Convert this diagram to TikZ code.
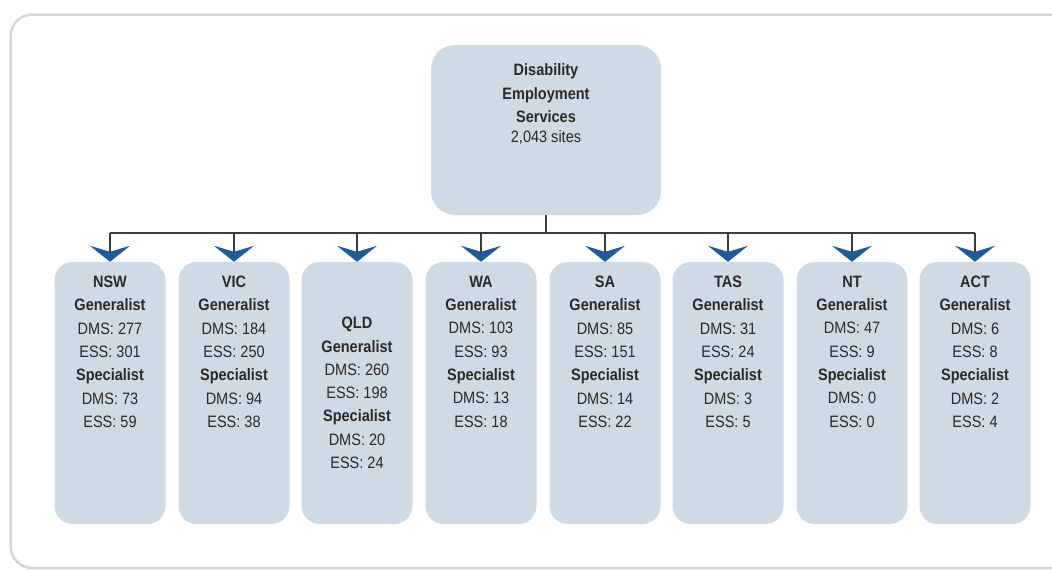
\documentclass[tikz,border=0pt]{standalone}
\usepackage{fontspec}
\setmainfont{Liberation Sans}[FakeStretch=0.88]
\usetikzlibrary{arrows.meta}

\definecolor{boxblue}{HTML}{CFDBE4}
\definecolor{tipblue}{HTML}{1F5B97}
\definecolor{linegray}{HTML}{3C3C3C}
\definecolor{framegray}{HTML}{D3D6D8}
\definecolor{inkgray}{HTML}{2A2A2A}

\tikzset{
  desbox/.style={fill=boxblue, rounded corners=24pt, minimum width=230pt, minimum height=170pt, inner sep=0pt},
  statebox/.style={fill=boxblue, rounded corners=18pt, minimum width=111pt, minimum height=262pt, inner sep=0pt},
  link/.style={draw=linegray, line width=2pt},
  droparrow/.style={link, -{Stealth[length=16pt,width=40pt,inset=6pt,color=tipblue]}}
}
% one column of figures inside a state box
\newcommand{\sitelist}[6]{\textbf{#1}\\\textbf{Generalist}\\DMS: #2\\ESS: #3\\\textbf{Specialist}\\DMS: #4\\ESS: #5}

\begin{document}
\begin{tikzpicture}[x=1pt,y=-1pt,font=\fontsize{16.5}{23.3}\selectfont, text=inkgray]
\useasboundingbox (0,0) rectangle (1052,570);
\clip (0,0) rectangle (1052,570);
\draw[framegray, line width=2.5pt, rounded corners=22pt] (10.5,14.5) rectangle (1090,568);

\node[desbox](des) at (546,130){\parbox[c][132pt][t]{200pt}{\centering\textbf{Disability}\\\textbf{Employment}\\\textbf{Services}\\[-3pt]2,043 sites}};

\node[statebox](nsw) at (110,393){\parbox[c][234pt][t]{105pt}{\centering\sitelist{NSW}{277}{301}{73}{59}{}}};
\node[statebox](vic) at (234,393){\parbox[c][234pt][t]{105pt}{\centering\sitelist{VIC}{184}{250}{94}{38}{}}};
\node[statebox](qld) at (357,393){\parbox[c][234pt][c]{105pt}{\centering\sitelist{QLD}{260}{198}{20}{24}{}}};
\node[statebox](wa) at (481,393){\parbox[c][234pt][t]{105pt}{\centering\sitelist{WA}{103}{93}{13}{18}{}}};
\node[statebox](sa) at (605,393){\parbox[c][234pt][t]{105pt}{\centering\sitelist{SA}{85}{151}{14}{22}{}}};
\node[statebox](tas) at (728,393){\parbox[c][234pt][t]{105pt}{\centering\sitelist{TAS}{31}{24}{3}{5}{}}};
\node[statebox](nt) at (852,393){\parbox[c][234pt][t]{105pt}{\centering\sitelist{NT}{47}{9}{0}{0}{}}};
\node[statebox](act) at (975,393){\parbox[c][234pt][t]{105pt}{\centering\sitelist{ACT}{6}{8}{2}{4}{}}};

\coordinate (bus) at (546,233);
\draw[link] (des) -- (bus);
\draw[link] (nsw.north |- bus) -- (act.north |- bus);
\foreach \s in {nsw,vic,qld,wa,sa,tas,nt,act}
  \draw[droparrow] (\s.north |- bus) -- (\s.north);
\end{tikzpicture}
\end{document}
